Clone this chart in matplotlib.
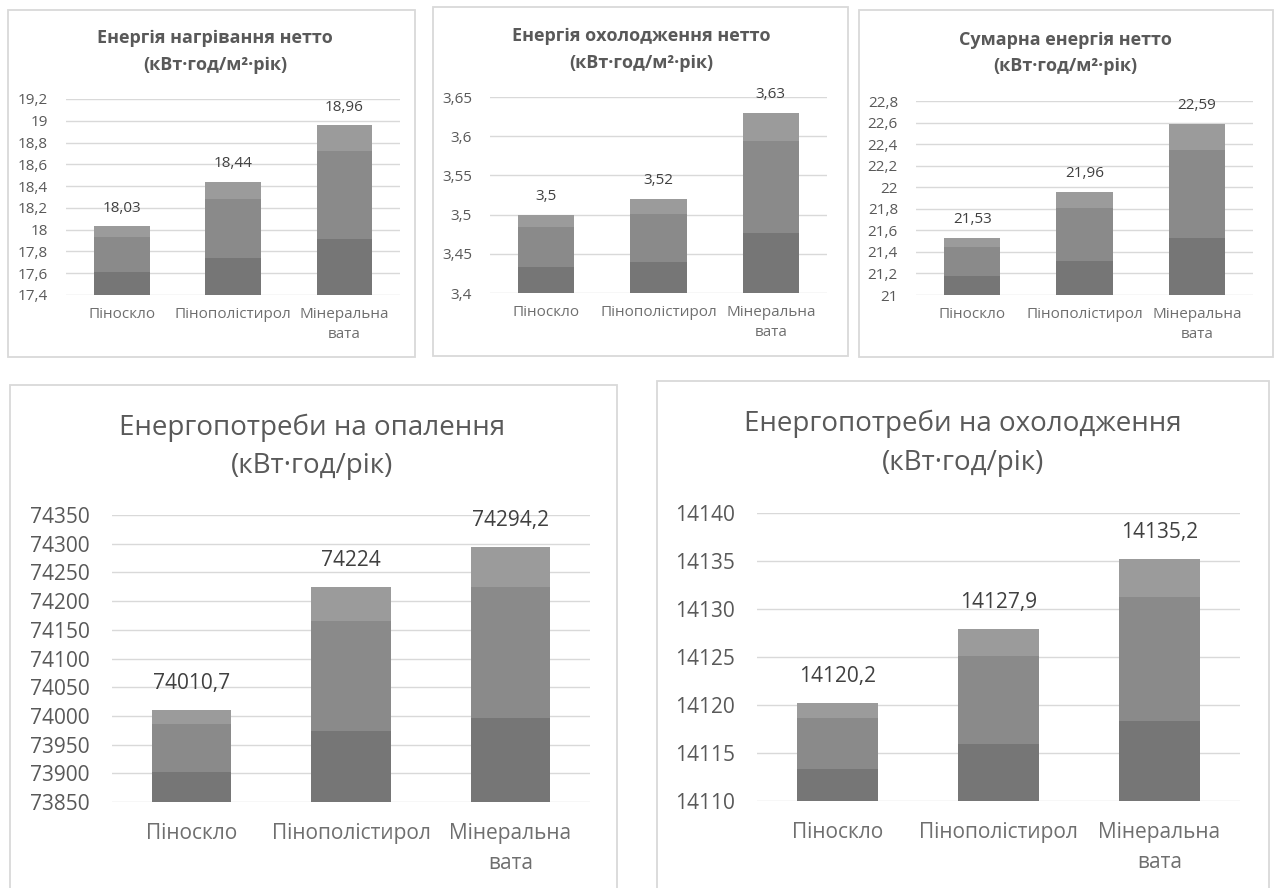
import numpy as np
import matplotlib
matplotlib.use('Agg')
import matplotlib.pyplot as plt
from matplotlib.patches import Rectangle

plt.rcParams['font.family'] = ['Open Sans', 'DejaVu Sans']

# дані
categories = ['Піноскло', 'Пінополістирол', 'Мінеральна\nвата']
heating_net = [18.03, 18.44, 18.96]
cooling_net = [3.50, 3.52, 3.63]
total_net = [21.53, 21.96, 22.59]
heating_demand = [74010.7, 74224.0, 74294.2]
cooling_demand = [14120.2, 14127.9, 14135.2]

# межі осі y: (мін, макс, крок)
heating_net_axis = (17.4, 19.2, 0.2)
cooling_net_axis = (3.4, 3.65, 0.05)
total_net_axis = (21.0, 22.8, 0.2)
heating_demand_axis = (73850, 74350, 50)
cooling_demand_axis = (14110, 14140, 5)

titles = [
    ('Енергія нагрівання нетто', '(кВт·год/м²·рік)'),
    ('Енергія охолодження нетто', '(кВт·год/м²·рік)'),
    ('Сумарна енергія нетто', '(кВт·год/м²·рік)'),
    ('Енергопотреби на опалення', '(кВт·год/рік)'),
    ('Енергопотреби на охолодження', '(кВт·год/рік)'),
]

W, H = 1278, 888
fig = plt.figure(figsize=(W / 100, H / 100), dpi=100)

def frac(l, t, r, b):
    return [l / W, 1 - b / H, (r - l) / W, (b - t) / H]

def fmt(v):
    return f"{round(v, 3):g}".replace('.', ',')

TXT = '#595959'
GRID = '#d9d9d9'
DARK, MID, LIGHT = '#767676', '#8a8a8a', '#9b9b9b'

# розкладка: рамка, вісь, центр заголовка, рядки заголовка, розміри шрифтів
layout = [
    dict(box=(8, 10, 415, 357), ax=(66, 99, 400, 295), tx=215, ty=(38, 65),
         tfs=13, tw='bold', fs=11, ypad=13, xpad=9, voff=13, ls=1.45),
    dict(box=(433, 7, 848, 356), ax=(490, 97, 827, 293), tx=641, ty=(36, 63),
         tfs=13, tw='bold', fs=11, ypad=13, xpad=9, voff=13, ls=1.45),
    dict(box=(859, 10, 1273, 357), ax=(916, 101, 1253, 295), tx=1065, ty=(40, 66),
         tfs=13, tw='bold', fs=11, ypad=13, xpad=9, voff=13, ls=1.45),
    dict(box=(10, 385, 617, 900), ax=(112, 515, 590, 802), tx=312, ty=(428, 466),
         tfs=20, tw='normal', fs=15, ypad=16, xpad=15, voff=19, ls=1.55),
    dict(box=(657, 381, 1269, 900), ax=(757, 513, 1240, 801), tx=963, ty=(424, 463),
         tfs=20, tw='normal', fs=15, ypad=16, xpad=15, voff=19, ls=1.55),
]

series = [heating_net, cooling_net, total_net, heating_demand, cooling_demand]
axes_lim = [heating_net_axis, cooling_net_axis, total_net_axis,
            heating_demand_axis, cooling_demand_axis]

for lay, vals, (lo, hi, step), title in zip(layout, series, axes_lim, titles):
    l, t, r, b = lay['box']
    fig.add_artist(Rectangle((l / W, 1 - b / H), (r - l) / W, (b - t) / H,
                             transform=fig.transFigure, fill=False,
                             ec='#d9d9d9', lw=1.3))
    for line, y in zip(title, lay['ty']):
        fig.text(lay['tx'] / W, 1 - y / H, line, ha='center', va='center',
                 fontsize=lay['tfs'], fontweight=lay['tw'], color=TXT)

    ax = fig.add_axes(frac(*lay['ax']))
    x = np.arange(len(categories))
    vals = np.array(vals)
    h = vals - lo
    # три смуги градієнтної заливки
    ax.bar(x, h * 0.33, 0.5, bottom=lo, color=DARK, zorder=2)
    ax.bar(x, h * 0.515, 0.5, bottom=lo + h * 0.33, color=MID, zorder=2)
    ax.bar(x, h * 0.155, 0.5, bottom=lo + h * 0.845, color=LIGHT, zorder=2)

    for xi, v in zip(x, vals):
        ax.annotate(fmt(v), (xi, v), xytext=(0, lay['voff']), textcoords='offset points',
                    ha='center', va='center', fontsize=lay['fs'], color='#404040')

    ticks = np.round(np.arange(lo, hi + step / 2, step), 3)
    ax.set_yticks(ticks)
    ax.set_yticklabels([fmt(tk) for tk in ticks])
    ax.set_ylim(lo, hi)
    ax.set_xlim(-0.5, len(categories) - 0.5)
    ax.set_xticks(x)
    ax.set_xticklabels(categories, color='#6f6f6f', fontsize=lay['fs'],
                       linespacing=lay['ls'])
    ax.tick_params(axis='y', length=0, pad=lay['ypad'], labelsize=lay['fs'], labelcolor=TXT)
    ax.tick_params(axis='x', length=0, pad=lay['xpad'])
    ax.grid(axis='y', color=GRID, lw=1.0, zorder=0)
    ax.set_axisbelow(True)
    for s in ax.spines.values():
        s.set_visible(False)
    ax.set_facecolor('none')

fig.savefig('out.png', dpi=100, facecolor='white')
